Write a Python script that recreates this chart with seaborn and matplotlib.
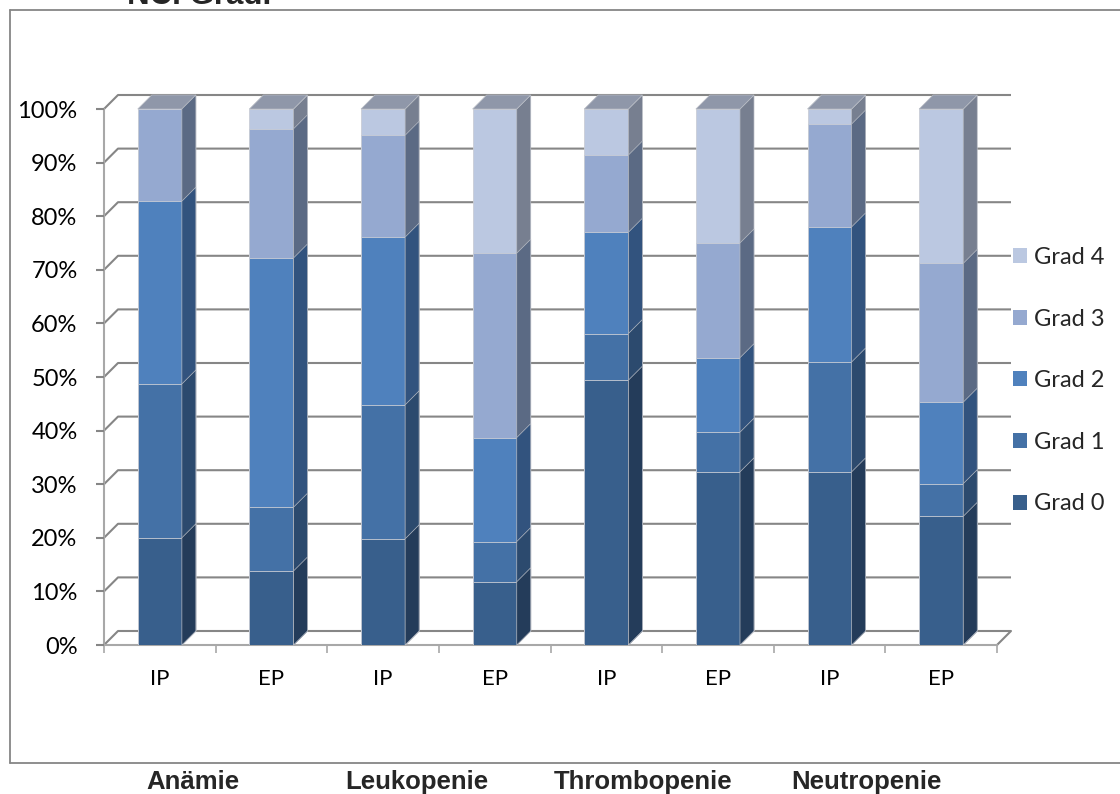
import matplotlib
matplotlib.use("Agg")
import matplotlib.pyplot as plt
import pandas as pd
import seaborn as sns
from matplotlib.patches import Polygon, Patch
from matplotlib.lines import Line2D

# ---- data (percent of patients per NCI grade) ----
phases = ["IP", "EP", "IP", "EP", "IP", "EP", "IP", "EP"]
diagnoses = ["Anämie", "Leukopenie", "Thrombopenie", "Neutropenie"]
grades = ["Grad 0", "Grad 1", "Grad 2", "Grad 3", "Grad 4"]

grad0 = [20.0, 13.8, 19.8, 11.8, 49.4, 32.3, 32.3, 24.0]
grad1 = [28.7, 11.9, 25.0, 7.5, 8.7, 7.4, 20.5, 6.1]
grad2 = [34.1, 46.5, 31.3, 19.4, 18.9, 13.9, 25.2, 15.2]
grad3 = [17.2, 24.1, 19.0, 34.4, 14.4, 21.4, 19.2, 25.9]
grad4 = [0.0, 3.7, 4.9, 26.9, 8.6, 25.0, 2.8, 28.8]

# ---- styling ----
face = ["#385F8C", "#4471A6", "#4F81BD", "#95A9D0", "#BBC8E1"]
side = ["#243C5A", "#2C4A6E", "#32537E", "#5B6A84", "#777F90"]
top_col = "#8F97A9"
grid_col = "#868686"
axis_col = "#A8A8A8"

sns.set_theme(style="white")
plt.rcParams["font.family"] = ["Lato", "DejaVu Sans"]

W, H = 1120, 794
fig = plt.figure(figsize=(W / 100, H / 100), dpi=100)
# plot area (front plane) in pixels: x 104..997, y(0%)=645, y(100%)=109
ax = fig.add_axes([104 / W, (H - 645) / H, 893 / W, 536 / H])

slots = [f"{diagnoses[i // 2]} {phases[i]}" for i in range(len(phases))]
series = [grad0, grad1, grad2, grad3, grad4]
df = pd.DataFrame({"slot": slots})
run = [0.0] * len(slots)
for k, vals in enumerate(series):
    run = [r + v for r, v in zip(run, vals)]
    df[f"cum{k}"] = run

xmin, xmax = -0.5, len(slots) - 0.5
ax.set_xlim(xmin, xmax)
ax.set_ylim(0, 100)

# depth offset of the 3D look (14 px each way), expressed in data units
dx = 14 / (893 / len(slots))
dy = 14 / 5.36

# back wall gridlines with the left wall diagonal
for yv in range(10, 101, 10):
    ax.plot([xmin, xmin + dx, xmax + dx], [yv, yv + dy, yv + dy],
            color=grid_col, lw=1.5, clip_on=False, zorder=0.3,
            solid_capstyle="butt")
# floor
ax.plot([xmin, xmin + dx, xmax + dx, xmax], [0, dy, dy, 0],
        color=grid_col, lw=1.5, clip_on=False, zorder=0.3)

# stacked columns: cumulative totals drawn from the top grade downwards
for k in range(len(series) - 1, -1, -1):
    n0 = len(ax.patches)
    sns.barplot(data=df, x="slot", y=f"cum{k}", color=face[k], saturation=1,
                width=0.395, errorbar=None, ax=ax, edgecolor="#C9CDD6",
                linewidth=0.6, zorder=1)
    bars = list(ax.patches[n0:])
    for p in bars:
        x0, w, h = p.get_x(), p.get_width(), p.get_height()
        ax.add_patch(Polygon([(x0 + w, 0), (x0 + w + dx, dy),
                              (x0 + w + dx, h + dy), (x0 + w, h)],
                             closed=True, facecolor=side[k],
                             edgecolor="#B8BCC4", lw=0.5, zorder=1,
                             clip_on=False))
        if k == len(series) - 1:
            ax.add_patch(Polygon([(x0, h), (x0 + dx, h + dy),
                                  (x0 + w + dx, h + dy), (x0 + w, h)],
                                 closed=True, facecolor=top_col,
                                 edgecolor="#B8BCC4", lw=0.5, zorder=1,
                                 clip_on=False))

# axes, ticks, labels
for s in ["top", "right"]:
    ax.spines[s].set_visible(False)
ax.spines["left"].set_color(axis_col)
ax.spines["bottom"].set_color(axis_col)
ax.spines["left"].set_linewidth(1.5)
ax.spines["bottom"].set_linewidth(1.5)
ax.spines["left"].set_zorder(0.4)
ax.spines["bottom"].set_zorder(0.4)

ax.set_yticks(range(0, 101, 10))
ax.set_yticklabels([f"{v}%" for v in range(0, 101, 10)])
ax.set_xticks(range(len(slots)))
ax.set_xticklabels(phases)
ax.set_xticks([i - 0.5 for i in range(len(slots) + 1)], minor=True)
ax.tick_params(axis="y", which="major", length=6, width=1.5, color=grid_col,
               pad=13, labelsize=17, labelcolor="black", left=True)
ax.tick_params(axis="x", which="major", length=0, pad=17, labelsize=16,
               labelcolor="black")
ax.tick_params(axis="x", which="minor", length=6, width=1.2, color=axis_col,
               bottom=True, direction="out")
ax.set_xlabel("")
ax.set_ylabel("")
ax.grid(False)

# legend, top grade first
handles = [Patch(facecolor=face[k], edgecolor="none", label=grades[k])
           for k in range(len(grades) - 1, -1, -1)]
fig.legend(handles=handles, loc="upper left",
           bbox_to_anchor=(1013 / W, 1 - 247 / H), bbox_transform=fig.transFigure,
           frameon=False, borderpad=0, borderaxespad=0, handlelength=0.6,
           handleheight=0.6, handletextpad=0.3, labelspacing=1.72,
           prop={"family": "Lato", "size": 17})

# chart frame
frame_kw = dict(color=grid_col, lw=1.3, transform=fig.transFigure)
fig.add_artist(Line2D([10 / W, 1.01], [1 - 10 / H, 1 - 10 / H], **frame_kw))
fig.add_artist(Line2D([10 / W, 10 / W], [1 - 10 / H, 1 - 763 / H], **frame_kw))
fig.add_artist(Line2D([10 / W, 1.01], [1 - 763 / H, 1 - 763 / H], **frame_kw))

# title (partly outside the canvas) and diagnosis group labels
fig.text(127 / W, 1 - 4 / H, "NCI Grad.", ha="left", va="baseline",
         fontsize=22.5, fontweight="bold", family="Liberation Sans")
for name, cx in zip(diagnoses, [193, 417, 643, 866]):
    fig.text(cx / W, 1 - 789 / H, name, ha="center", va="baseline",
             fontsize=18.5, fontweight="bold", family="Liberation Sans")

fig.savefig("out.png", dpi=100, facecolor="white")
